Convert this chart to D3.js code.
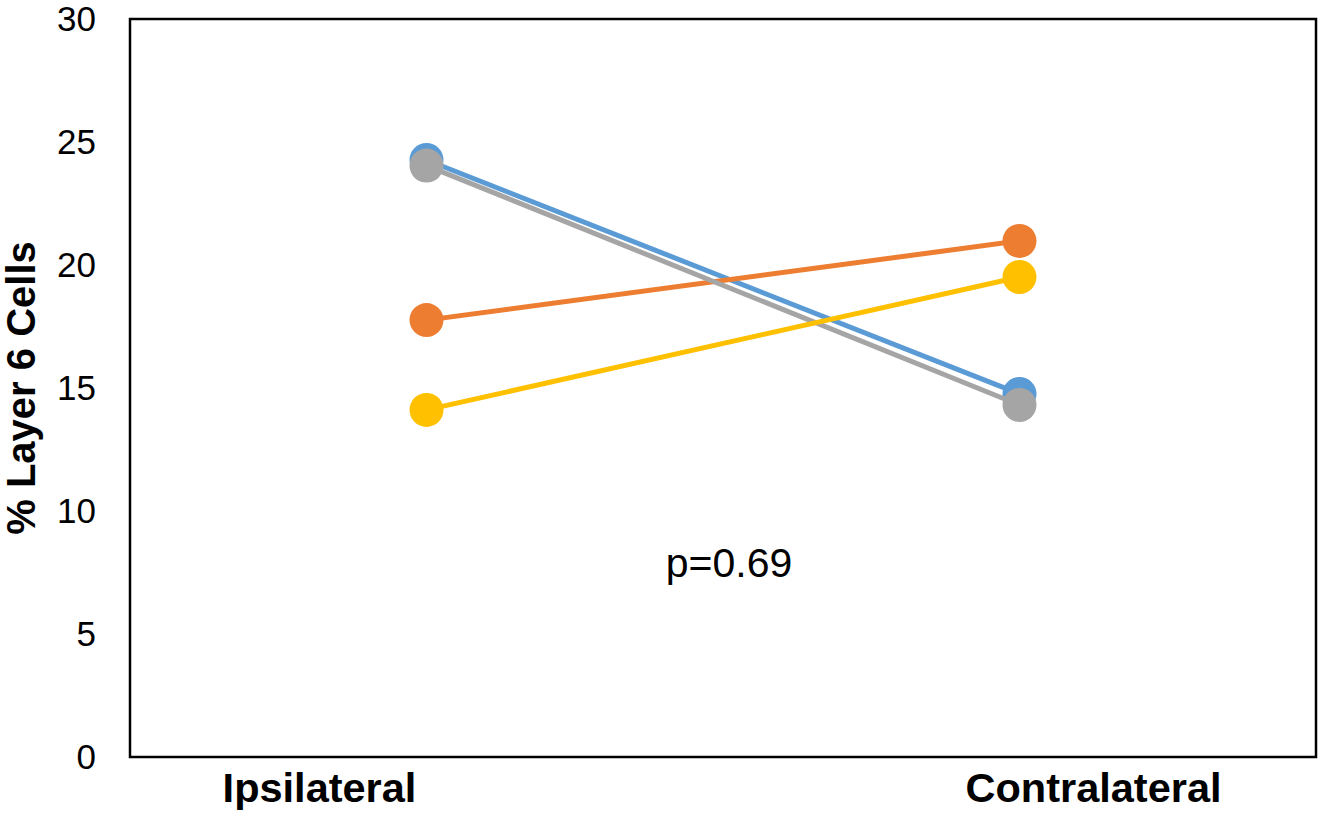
<!DOCTYPE html>
<html>
<head>
<meta charset="utf-8">
<script src="https://cdn.jsdelivr.net/npm/d3@7"></script>
<style>
  body { margin: 0; background: #fff; }
  text { font-family: "Liberation Sans", Arial, sans-serif; }
</style>
</head>
<body>
<svg width="1323" height="817"></svg>
<script>
// data
const categories = ["Ipsilateral", "Contralateral"];
const blueValues = [24.27, 14.76];
const orangeValues = [17.76, 20.98];
const grayValues = [24.04, 14.31];
const yellowValues = [14.11, 19.51];
const yTicks = [0, 5, 10, 15, 20, 25, 30];
const pLabel = "p=0.69";

const series = [
    { name: "blue", color: "#5B9BD5", values: blueValues },
    { name: "orange", color: "#ED7D31", values: orangeValues },
    { name: "gray", color: "#A5A5A5", values: grayValues },
    { name: "yellow", color: "#FFC000", values: yellowValues }
];

const svg = d3.select("svg");
const plotLeft = 130, plotRight = 1316, plotTop = 19, plotBottom = 757;

const x = d3.scaleBand().domain(categories).range([plotLeft, plotRight]).paddingInner(0).paddingOuter(0);
const y = d3.scaleLinear().domain([0, 30]).range([plotBottom, plotTop]);
const cx = d => x(d) + x.bandwidth() / 2;

// frame
svg.append("rect")
    .attr("x", plotLeft)
    .attr("y", plotTop)
    .attr("width", plotRight - plotLeft)
    .attr("height", plotBottom - plotTop)
    .attr("fill", "none")
    .attr("stroke", "#000")
    .attr("stroke-width", 2.5);

// y axis labels
const yAxis = d3.axisLeft(y).tickValues(yTicks).tickSize(0).tickPadding(34);
const gy = svg.append("g")
    .attr("transform", "translate(" + plotLeft + ",0)")
    .call(yAxis);
gy.select(".domain").remove();
gy.selectAll("text")
    .attr("font-size", 35)
    .attr("font-family", "Liberation Sans, Arial, sans-serif")
    .attr("fill", "#000");

// category labels (not centred on points in the original)
const labelShift = { "Ipsilateral": -107, "Contralateral": 74 };
svg.selectAll(".xlabel")
    .data(categories)
    .enter()
    .append("text")
    .attr("class", "xlabel")
    .attr("x", d => cx(d) + labelShift[d])
    .attr("y", 802)
    .attr("text-anchor", "middle")
    .attr("font-size", 41.5)
    .attr("font-weight", "bold")
    .text(d => d);

// y title
svg.append("text")
    .attr("transform", "translate(35,388) rotate(-90)")
    .attr("text-anchor", "middle")
    .attr("font-size", 40)
    .attr("font-weight", "bold")
    .text("% Layer 6 Cells");

// lines + markers
const line = d3.line()
    .x((d, i) => cx(categories[i]))
    .y(d => y(d));

series.forEach(s => {
    const g = svg.append("g").attr("class", "series-" + s.name);
    g.append("path")
        .datum(s.values)
        .attr("d", line)
        .attr("fill", "none")
        .attr("stroke", s.color)
        .attr("stroke-width", 5);
    g.selectAll("circle")
        .data(s.values)
        .enter()
        .append("circle")
        .attr("cx", (d, i) => cx(categories[i]))
        .attr("cy", d => y(d))
        .attr("r", 17)
        .attr("fill", s.color);
});

// p value
svg.append("text")
    .attr("x", 729)
    .attr("y", 577)
    .attr("text-anchor", "middle")
    .attr("font-size", 41)
    .text(pLabel);
</script>
</body>
</html>
